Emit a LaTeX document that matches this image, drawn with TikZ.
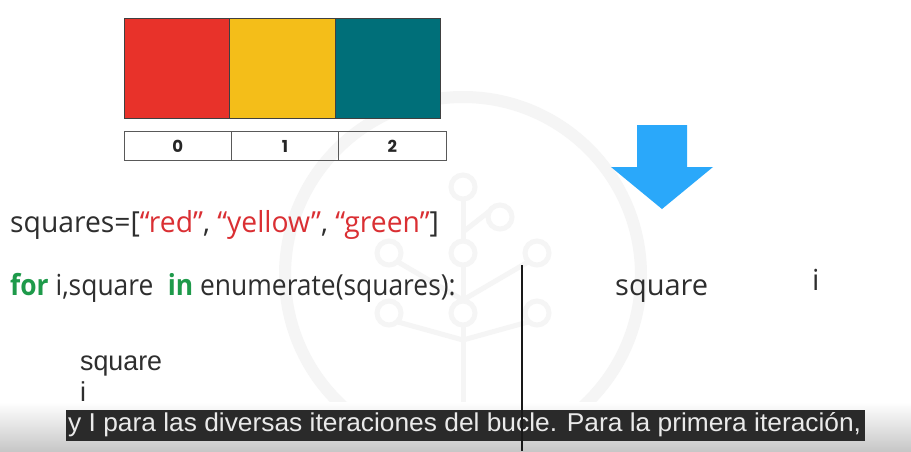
\documentclass[tikz,border=0pt]{standalone}
\usepackage{fontspec}
\setmainfont{Open Sans}
\newfontfamily\plainsans{Liberation Sans}
\newfontfamily\digitfont{Poppins}
\definecolor{sqred}{HTML}{E8322A}
\definecolor{sqyellow}{HTML}{F4BE19}
\definecolor{sqteal}{HTML}{006F79}
\definecolor{arrowblue}{HTML}{2AA8FA}
\definecolor{codetext}{HTML}{2E2E2E}
\definecolor{strred}{HTML}{DA2F33}
\definecolor{kwgreen}{HTML}{1E9A4A}
\definecolor{wmgray}{HTML}{F5F5F5}
\definecolor{barfill}{HTML}{2A2A2A}
\definecolor{captext}{HTML}{EAEAEA}
\tikzset{
  cell/.style={draw=black!75, line width=0.8pt, minimum width=105.5pt, minimum height=100pt, inner sep=0pt},
  idxbox/.style={draw=black!65, line width=0.8pt, minimum width=107.3pt, minimum height=29pt, inner sep=0pt,
    font=\digitfont\bfseries\fontsize{16.5}{18}\selectfont, text=black!85},
  code/.style={anchor=base west, inner sep=0pt, text=codetext, font=\fontsize{29}{34}\selectfont},
  plain/.style={anchor=base west, inner sep=0pt, text=codetext, font=\plainsans\fontsize{26}{30}\selectfont},
  wm/.style={draw=wmgray, line width=5pt},
  wmnode/.style={circle, draw=wmgray, line width=5pt, minimum size=24pt, inner sep=0pt},
}
\newcommand{\kw}[1]{\textcolor{kwgreen}{\textbf{#1}}}
\newcommand{\str}[1]{\textcolor{strred}{#1}}
\begin{document}
\begin{tikzpicture}[x=1pt,y=-1pt]
  \useasboundingbox (0,0) rectangle (911,451);
  \fill[white] (0,0) rectangle (911,451);

  % faint logo in the background: ring and tree
  \draw[wmgray, line width=12pt] (463,275) circle[radius=178];
  \draw[wm] (463,200) -- (463,430);
  \draw[wm] (463,232) -- (491,210);
  \draw[wm] (463,300) -- (398,262);
  \draw[wm] (463,300) -- (528,262);
  \draw[wm] (463,340) -- (398,322);
  \draw[wm] (463,340) -- (528,322);
  \node[wmnode, fill=white] (w1) at (463,187) {};
  \node[wmnode, fill=white] (w2) at (500,217) {};
  \node[wmnode, fill=white] (w3) at (389,253) {};
  \node[wmnode, fill=white] (w4) at (463,253) {};
  \node[wmnode, fill=white] (w5) at (537,253) {};
  \node[wmnode, fill=white] (w6) at (389,313) {};
  \node[wmnode, fill=white] (w7) at (463,313) {};
  \node[wmnode, fill=white] (w8) at (537,313) {};

  % the three coloured squares
  \node[cell, fill=sqred]    (c0) at (177,68) {};
  \node[cell, fill=sqyellow] (c1) at (282.5,68) {};
  \node[cell, fill=sqteal]   (c2) at (388,68) {};

  % index row
  \node[idxbox] (i0) at (177.7,146) {0};
  \node[idxbox] (i1) at (285,146) {1};
  \node[idxbox] (i2) at (392.3,146) {2};

  % blue down arrow
  \fill[arrowblue] (637,125) -- (687,125) -- (687,167) -- (713,167) -- (662,209)
    -- (611,167) -- (637,167) -- cycle;

  % code
  \node[code] (list) at (10,232)
    {\scalebox{0.975}[1]{squares=[\str{“red”}, \str{“yellow”}, \str{“green”}]}};
  \node[code] (loop) at (10,295)
    {\scalebox{0.91}[1]{\kw{for} i,square\hspace{0.55em}\kw{in} enumerate(squares):}};

  % table header on the right
  \node[code] (hsq) at (615,295) {square};
  \node[code] (hi) at (812,290) {i};

  % loop body
  \node[plain] (bsq) at (80,370) {\scalebox{1.03}[1.05]{square}};
  \node[plain] (bi) at (80,401) {\scalebox{1.03}[1.05]{i}};

  % bottom shading and caption bar
  \shade[top color=white, bottom color=black!22] (0,402) rectangle (911,451);
  \fill[barfill] (66,410) rectangle (865,441);
  \node[anchor=base west, inner sep=0pt, text=captext] (cap) at (68,431)
    {\resizebox{793pt}{19pt}{\plainsans y I para las diversas iteraciones del bucle. Para la primera iteración,}};

  % divider
  \coordinate (lt) at (522,265);
  \coordinate (lb) at (522,451);
  \draw[black!90, line width=1.8pt] (lt) -- (lb);
\end{tikzpicture}
\end{document}
